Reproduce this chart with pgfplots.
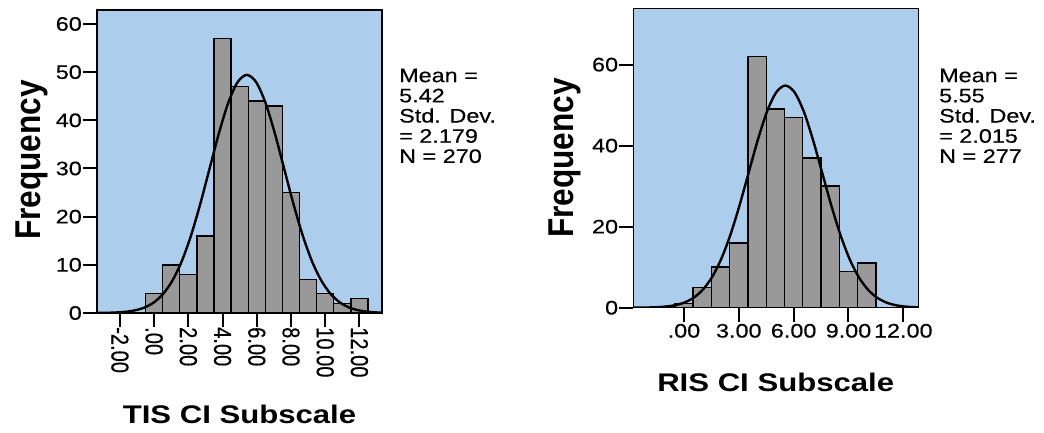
\documentclass[border=0pt]{standalone}
\usepackage{fontspec}
\setmainfont{Liberation Sans}
\usepackage{pgfplots}
\pgfplotsset{compat=1.18}
\newfontfamily\tickfont{Liberation Sans}[FakeStretch=1.2, FakeBold=0.4]
\newfontfamily\rotfont{Liberation Sans}[FakeStretch=0.82, FakeBold=0.4]
\newfontfamily\labfont{Liberation Sans}[FakeStretch=1.22]
\newfontfamily\freqfont{Liberation Sans}[FakeStretch=0.88]
\definecolor{spssblue}{RGB}{172,206,236}
\definecolor{bargray}{RGB}{153,153,153}
\pgfplotsset{
  spss/.style={
    anchor=south west, scale only axis,
    axis background/.style={fill=spssblue},
    axis line style={line width=1.4pt, black},
    tick align=outside,
    major tick length=14pt,
    every tick/.style={line width=2pt, black},
    xtick pos=bottom, ytick pos=left,
    yticklabel style={font=\tickfont\fontsize{19.5}{20}\selectfont, inner xsep=1pt},
    ymin=0,
  }
}
\begin{document}
\begin{tikzpicture}[x=1pt,y=1pt]
\useasboundingbox (0,0) rectangle (1044,432);
% ---------- left histogram ----------
\begin{axis}[spss, at={(97pt,119pt)}, width=285pt, height=303pt,
  xmin=-3.34, xmax=13.32, ymax=62.9,
  xtick={-2,0,2,4,6,8,10,12},
  xticklabels={-2.00,.00,2.00,4.00,6.00,8.00,10.00,12.00},
  xticklabel style={rotate=-90, anchor=west, font=\rotfont\fontsize{24.5}{25}\selectfont, inner xsep=0pt},
  ytick={0,10,20,30,40,50,60},
  yticklabels={0,10,20,30,40,50,60}]
\addplot[ybar interval, fill=bargray, draw=black, line width=1.4pt] coordinates {
 (-0.5,4) (0.5,10) (1.5,8) (2.5,16) (3.5,57) (4.5,47) (5.5,44) (6.5,43)
 (7.5,25) (8.5,7) (9.5,4) (10.5,2) (11.5,3) (12.5,3)};
\addplot[smooth, line width=2.4pt, black] coordinates {
 (-3.34,0.014) (-3.296,0.0166) (-2.751,0.0437) (-2.207,0.108) (-1.662,0.252)
 (-1.117,0.549) (-0.572,1.127) (-0.028,2.170) (0.517,3.935) (1.062,6.688)
 (1.607,10.69) (2.152,16.05) (2.696,22.63) (3.241,29.98) (3.786,37.31)
 (4.331,43.62) (4.875,47.91) (5.42,49.43) (5.965,47.91) (6.510,43.62)
 (7.054,37.31) (7.599,29.98) (8.144,22.63) (8.689,16.05) (9.233,10.69)
 (9.778,6.688) (10.323,3.935) (10.868,2.170) (11.412,1.127) (11.957,0.549)
 (12.502,0.252) (13.047,0.108) (13.32,0.068)};
\end{axis}
% ---------- right histogram ----------
\begin{axis}[spss, at={(633.3pt,124.3pt)}, width=285pt, height=299.4pt,
  xmin=-2.77, xmax=12.82, ymax=73.9,
  xtick={0,3,6,9,12},
  xticklabels={.00,3.00,6.00,9.00,12.00},
  xticklabel style={font=\tickfont\fontsize{19.5}{20}\selectfont, inner ysep=2pt},
  ytick={0,20,40,60},
  yticklabels={0,20,40,60}]
\addplot[ybar interval, fill=bargray, draw=black, line width=1.4pt] coordinates {
 (-0.5,1) (0.5,5) (1.5,10) (2.5,16) (3.5,62) (4.5,49) (5.5,47) (6.5,37)
 (7.5,30) (8.5,9) (9.5,11) (10.5,11)};
\addplot[smooth, line width=2.4pt, black] coordinates {
 (-2.77,0.0109) (-2.51,0.0184) (-2.006,0.0485) (-1.5025,0.120) (-0.999,0.279)
 (-0.495,0.609) (0.009,1.250) (0.5125,2.407) (1.016,4.365) (1.52,7.420)
 (2.024,11.86) (2.5275,17.81) (3.031,25.11) (3.535,33.26) (4.039,41.39)
 (4.5425,48.40) (5.046,53.15) (5.55,54.84) (6.054,53.15) (6.5575,48.40)
 (7.061,41.39) (7.565,33.26) (8.069,25.11) (8.5725,17.81) (9.076,11.86)
 (9.58,7.420) (10.084,4.365) (10.5875,2.407) (11.091,1.250) (11.595,0.609)
 (12.099,0.279) (12.6025,0.120) (12.82,0.081)};
\end{axis}
% ---------- labels ----------
\node[rotate=90, anchor=base, inner sep=0, font=\freqfont\bfseries\fontsize{35.9}{36}\selectfont] at (40,272) {Frequency};
\node[rotate=90, anchor=base, inner sep=0, font=\freqfont\bfseries\fontsize{35.9}{36}\selectfont] at (573,274) {Frequency};
\node[anchor=base, inner sep=0, font=\labfont\bfseries\fontsize{25.5}{26}\selectfont] at (239.5,9) {TIS CI Subscale};
\node[anchor=base, inner sep=0, font=\labfont\bfseries\fontsize{25.5}{26}\selectfont] at (775.7,41) {RIS CI Subscale};
\node[anchor=north west, align=left, inner sep=0, font=\tickfont\fontsize{19.5}{20.2}\selectfont] at (399,363.5)
  {Mean =\\5.42\\Std. Dev.\\= 2.179\\N = 270};
\node[anchor=north west, align=left, inner sep=0, font=\tickfont\fontsize{19.5}{20.2}\selectfont] at (939,363.5)
  {Mean =\\5.55\\Std. Dev.\\= 2.015\\N = 277};
\end{tikzpicture}
\end{document}
